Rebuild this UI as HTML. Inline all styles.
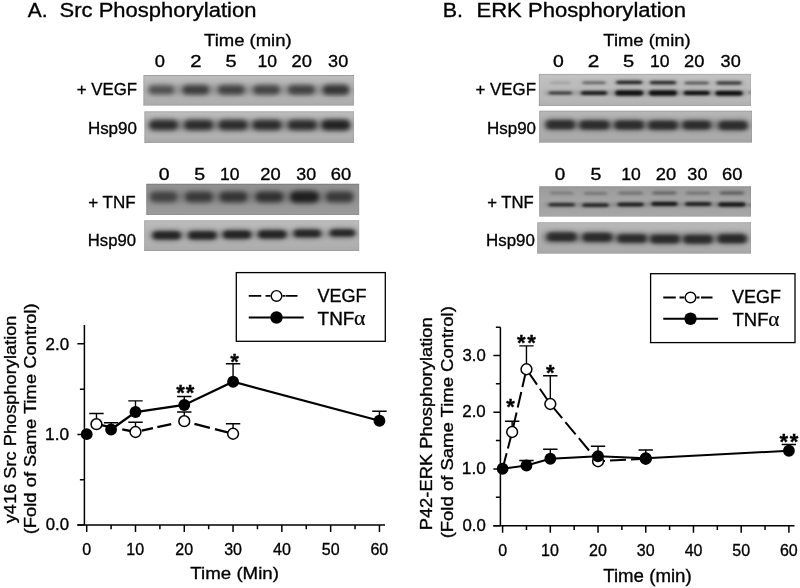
<!DOCTYPE html>
<html><head><meta charset="utf-8"><title>Src and ERK Phosphorylation</title>
<style>
html,body{margin:0;padding:0;background:#fff;}
svg{display:block;}
text{font-family:"Liberation Sans",sans-serif;fill:#000;stroke:#000;stroke-width:.32px;}
</style></head>
<body>
<svg width="800" height="588" viewBox="0 0 800 588">
<defs>
<filter id="bl" x="-5%" y="-30%" width="110%" height="160%"><feGaussianBlur stdDeviation="2.3 2.0"/></filter>
<filter id="bls" x="-5%" y="-30%" width="110%" height="160%"><feGaussianBlur stdDeviation="1.7 0.8"/></filter>
<filter id="bl2s" x="-5%" y="-30%" width="110%" height="160%"><feGaussianBlur stdDeviation="3 1.8"/></filter>
<filter id="blm" x="-5%" y="-30%" width="110%" height="160%"><feGaussianBlur stdDeviation="1.9 1.4"/></filter>
<filter id="bl2m" x="-5%" y="-30%" width="110%" height="160%"><feGaussianBlur stdDeviation="3.4 2.6"/></filter>
<filter id="bl2" x="-5%" y="-30%" width="110%" height="160%"><feGaussianBlur stdDeviation="3.6 2.8"/></filter>
<linearGradient id="ga" x1="0" y1="0" x2="0" y2="1"><stop offset="0" stop-color="#fff" stop-opacity=".12"/><stop offset=".5" stop-color="#fff" stop-opacity="0"/><stop offset="1" stop-color="#000" stop-opacity=".06"/></linearGradient>
<linearGradient id="gb" x1="0" y1="0" x2="0" y2="1"><stop offset="0" stop-color="#000" stop-opacity=".06"/><stop offset=".5" stop-color="#000" stop-opacity="0"/><stop offset="1" stop-color="#fff" stop-opacity=".04"/></linearGradient>
<clipPath id="ca1"><rect x="143.3" y="75" width="210.70" height="30.75"/></clipPath><clipPath id="ca2"><rect x="144.3" y="111.25" width="209.70" height="31.65"/></clipPath><clipPath id="ca3"><rect x="146.2" y="183.6" width="213.20" height="31.40"/></clipPath><clipPath id="ca4"><rect x="144.2" y="220.2" width="215.20" height="30.80"/></clipPath><clipPath id="cb1"><rect x="538.7" y="73.7" width="212.30" height="32.30"/></clipPath><clipPath id="cb2"><rect x="539.2" y="110.5" width="212.80" height="32.30"/></clipPath><clipPath id="cb3"><rect x="539.2" y="186.2" width="211.80" height="30.60"/></clipPath><clipPath id="cb4"><rect x="537.2" y="222.2" width="213.80" height="31.60"/></clipPath>
</defs>
<rect width="800" height="588" fill="#fff"/>
<text transform="translate(27.73,17.40) scale(1.0684,1)" font-size="19.6">A.</text>
<text transform="translate(59.57,17.40) scale(1.1224,1)" font-size="19.6">Src Phosphorylation</text>
<text transform="translate(204.07,45.60) scale(1.1001,1)" font-size="16.8">Time (min)</text>
<text transform="translate(154.77,66.80) scale(1.1331,1)" font-size="16.2">0</text>
<text transform="translate(190.24,66.80) scale(1.2503,1)" font-size="16.2">2</text>
<text transform="translate(225.45,66.80) scale(1.2389,1)" font-size="16.2">5</text>
<text transform="translate(257.40,66.80) scale(1.0839,1)" font-size="16.2">10</text>
<text transform="translate(291.58,66.80) scale(1.1310,1)" font-size="16.2">20</text>
<text transform="translate(328.09,66.80) scale(1.1165,1)" font-size="16.2">30</text>
<text transform="translate(158.72,179.60) scale(1.1979,1)" font-size="16.2">0</text>
<text transform="translate(194.22,179.60) scale(1.2063,1)" font-size="16.2">5</text>
<text transform="translate(219.90,179.60) scale(1.0839,1)" font-size="16.2">10</text>
<text transform="translate(260.33,179.60) scale(1.1310,1)" font-size="16.2">20</text>
<text transform="translate(296.35,179.60) scale(1.1016,1)" font-size="16.2">30</text>
<text transform="translate(330.83,179.60) scale(1.1310,1)" font-size="16.2">60</text>
<text transform="translate(76.86,95.10) scale(1.0372,1)" font-size="16.2">+ VEGF</text>
<text transform="translate(87.88,133.60) scale(1.0486,1)" font-size="16.2">Hsp90</text>
<text transform="translate(88.15,208.20) scale(1.0507,1)" font-size="16.2">+ TNF</text>
<text transform="translate(87.81,245.90) scale(1.0286,1)" font-size="16.2">Hsp90</text>
<text transform="translate(442.71,17.40) scale(1.0933,1)" font-size="19.6">B.</text>
<text transform="translate(476.46,17.40) scale(1.1260,1)" font-size="19.6">ERK Phosphorylation</text>
<text transform="translate(603.32,45.60) scale(1.0969,1)" font-size="16.8">Time (min)</text>
<text transform="translate(552.97,66.80) scale(1.1979,1)" font-size="16.2">0</text>
<text transform="translate(587.71,66.80) scale(1.2841,1)" font-size="16.2">2</text>
<text transform="translate(622.95,66.80) scale(1.2389,1)" font-size="16.2">5</text>
<text transform="translate(649.90,66.80) scale(1.0839,1)" font-size="16.2">10</text>
<text transform="translate(684.08,66.80) scale(1.1310,1)" font-size="16.2">20</text>
<text transform="translate(720.59,66.80) scale(1.1165,1)" font-size="16.2">30</text>
<text transform="translate(554.74,179.60) scale(1.1655,1)" font-size="16.2">0</text>
<text transform="translate(590.47,179.60) scale(1.2063,1)" font-size="16.2">5</text>
<text transform="translate(621.15,179.60) scale(1.0839,1)" font-size="16.2">10</text>
<text transform="translate(655.83,179.60) scale(1.1310,1)" font-size="16.2">20</text>
<text transform="translate(687.34,179.60) scale(1.1165,1)" font-size="16.2">30</text>
<text transform="translate(722.08,179.60) scale(1.1310,1)" font-size="16.2">60</text>
<text transform="translate(475.46,95.10) scale(1.0426,1)" font-size="16.2">+ VEGF</text>
<text transform="translate(486.99,133.70) scale(1.0464,1)" font-size="16.2">Hsp90</text>
<text transform="translate(487.17,208.20) scale(1.0301,1)" font-size="16.2">+ TNF</text>
<text transform="translate(486.09,246.20) scale(1.0419,1)" font-size="16.2">Hsp90</text>
<g clip-path="url(#ca1)">
<rect x="143.3" y="75" width="210.70" height="30.75" fill="#b4b4b4"/>
<rect x="143.3" y="75" width="210.70" height="30.75" fill="url(#ga)"/>
<g filter="url(#bl2)">
<rect x="149.30" y="85.00" width="198.70" height="10.00" fill="#000" opacity="0.14"/>
<rect x="147.20" y="83.80" width="28.00" height="12.00" rx="6.00" fill="#000" opacity="0.175"/>
<rect x="181.30" y="83.55" width="29.00" height="12.50" rx="6.25" fill="#000" opacity="0.236"/>
<rect x="216.80" y="83.55" width="29.00" height="12.50" rx="6.25" fill="#000" opacity="0.220"/>
<rect x="252.00" y="83.55" width="29.00" height="12.50" rx="6.25" fill="#000" opacity="0.213"/>
<rect x="286.90" y="83.55" width="29.00" height="12.50" rx="6.25" fill="#000" opacity="0.220"/>
<rect x="321.60" y="83.30" width="29.00" height="13.00" rx="6.50" fill="#000" opacity="0.258"/>
</g>
<g filter="url(#bl)">
<rect x="148.70" y="85.90" width="25.00" height="7.80" rx="3.90" fill="#000" opacity="0.368"/>
<rect x="182.80" y="85.65" width="26.00" height="8.30" rx="4.15" fill="#000" opacity="0.496"/>
<rect x="218.30" y="85.65" width="26.00" height="8.30" rx="4.15" fill="#000" opacity="0.464"/>
<rect x="253.50" y="85.65" width="26.00" height="8.30" rx="4.15" fill="#000" opacity="0.448"/>
<rect x="288.40" y="85.65" width="26.00" height="8.30" rx="4.15" fill="#000" opacity="0.464"/>
<rect x="323.10" y="85.40" width="26.00" height="8.80" rx="4.40" fill="#000" opacity="0.544"/>
</g>
<path d="M143.70 105.75 V75.40 H354.00" fill="none" stroke="#000" stroke-opacity=".2" stroke-width=".9"/>
<path d="M143.30 105.35 H353.60 V75.00" fill="none" stroke="#000" stroke-opacity=".08" stroke-width=".9"/>
</g>
<g clip-path="url(#ca2)">
<rect x="144.3" y="111.25" width="209.70" height="31.65" fill="#b3b3b3"/>
<rect x="144.3" y="111.25" width="209.70" height="31.65" fill="url(#ga)"/>
<g filter="url(#bl2)">
<rect x="150.30" y="119.50" width="197.70" height="11.00" fill="#000" opacity="0.2"/>
<rect x="147.90" y="118.60" width="31.00" height="12.80" rx="6.40" fill="#000" opacity="0.281"/>
<rect x="183.10" y="118.60" width="31.00" height="12.80" rx="6.40" fill="#000" opacity="0.281"/>
<rect x="217.50" y="118.60" width="31.00" height="12.80" rx="6.40" fill="#000" opacity="0.281"/>
<rect x="251.50" y="118.60" width="31.00" height="12.80" rx="6.40" fill="#000" opacity="0.281"/>
<rect x="286.80" y="118.60" width="31.00" height="12.80" rx="6.40" fill="#000" opacity="0.281"/>
<rect x="320.50" y="118.45" width="31.00" height="13.10" rx="6.55" fill="#000" opacity="0.319"/>
</g>
<g filter="url(#bl)">
<rect x="149.40" y="120.70" width="28.00" height="8.60" rx="4.30" fill="#000" opacity="0.592"/>
<rect x="184.60" y="120.70" width="28.00" height="8.60" rx="4.30" fill="#000" opacity="0.592"/>
<rect x="219.00" y="120.70" width="28.00" height="8.60" rx="4.30" fill="#000" opacity="0.592"/>
<rect x="253.00" y="120.70" width="28.00" height="8.60" rx="4.30" fill="#000" opacity="0.592"/>
<rect x="288.30" y="120.70" width="28.00" height="8.60" rx="4.30" fill="#000" opacity="0.592"/>
<rect x="322.00" y="120.55" width="28.00" height="8.90" rx="4.45" fill="#000" opacity="0.672"/>
</g>
<path d="M144.70 142.90 V111.65 H354.00" fill="none" stroke="#000" stroke-opacity=".2" stroke-width=".9"/>
<path d="M144.30 142.50 H353.60 V111.25" fill="none" stroke="#000" stroke-opacity=".08" stroke-width=".9"/>
</g>
<g clip-path="url(#ca3)">
<rect x="146.2" y="183.6" width="213.20" height="31.40" fill="#989898"/>
<rect x="146.2" y="183.6" width="213.20" height="31.40" fill="url(#gb)"/>
<g filter="url(#bl2)">
<rect x="152.20" y="191.50" width="201.20" height="11.00" fill="#000" opacity="0.14"/>
<rect x="148.30" y="190.15" width="30.00" height="13.50" rx="6.75" fill="#000" opacity="0.182"/>
<rect x="184.00" y="190.15" width="30.00" height="13.50" rx="6.75" fill="#000" opacity="0.213"/>
<rect x="218.40" y="190.15" width="30.00" height="13.50" rx="6.75" fill="#000" opacity="0.228"/>
<rect x="254.40" y="190.15" width="30.00" height="13.50" rx="6.75" fill="#000" opacity="0.243"/>
<rect x="289.00" y="189.65" width="31.00" height="14.50" rx="7.25" fill="#000" opacity="0.312"/>
<rect x="324.70" y="190.15" width="30.00" height="13.50" rx="6.75" fill="#000" opacity="0.213"/>
</g>
<g filter="url(#bl)">
<rect x="149.80" y="192.25" width="27.00" height="9.30" rx="4.65" fill="#000" opacity="0.384"/>
<rect x="185.50" y="192.25" width="27.00" height="9.30" rx="4.65" fill="#000" opacity="0.448"/>
<rect x="219.90" y="192.25" width="27.00" height="9.30" rx="4.65" fill="#000" opacity="0.480"/>
<rect x="255.90" y="192.25" width="27.00" height="9.30" rx="4.65" fill="#000" opacity="0.512"/>
<rect x="290.50" y="191.75" width="28.00" height="10.30" rx="5.15" fill="#000" opacity="0.656"/>
<rect x="326.20" y="192.25" width="27.00" height="9.30" rx="4.65" fill="#000" opacity="0.448"/>
</g>
<path d="M146.60 215.00 V184.00 H359.40" fill="none" stroke="#000" stroke-opacity=".2" stroke-width=".9"/>
<path d="M146.20 214.60 H359.00 V183.60" fill="none" stroke="#000" stroke-opacity=".08" stroke-width=".9"/>
</g>
<g clip-path="url(#ca4)">
<rect x="144.2" y="220.2" width="215.20" height="30.80" fill="#b3b3b3"/>
<rect x="144.2" y="220.2" width="215.20" height="30.80" fill="url(#ga)"/>
<g filter="url(#bl2m)">
<rect x="150.20" y="230.50" width="203.20" height="8.00" fill="#000" opacity="0.1"/>
<rect x="151.45" y="229.75" width="30.50" height="11.30" rx="5.65" fill="#000" opacity="0.334"/>
<rect x="187.15" y="229.75" width="30.50" height="11.30" rx="5.65" fill="#000" opacity="0.334"/>
<rect x="221.75" y="228.95" width="30.50" height="11.30" rx="5.65" fill="#000" opacity="0.334"/>
<rect x="256.95" y="228.75" width="30.50" height="11.30" rx="5.65" fill="#000" opacity="0.334"/>
<rect x="292.55" y="228.05" width="29.50" height="10.70" rx="5.35" fill="#000" opacity="0.327"/>
<rect x="328.75" y="227.75" width="27.50" height="10.30" rx="5.15" fill="#000" opacity="0.327"/>
</g>
<g filter="url(#blm)">
<rect x="152.95" y="231.50" width="27.50" height="7.80" rx="3.28" fill="#000" opacity="0.662"/>
<rect x="188.65" y="231.50" width="27.50" height="7.80" rx="3.28" fill="#000" opacity="0.662"/>
<rect x="223.25" y="230.70" width="27.50" height="7.80" rx="3.28" fill="#000" opacity="0.662"/>
<rect x="258.45" y="230.50" width="27.50" height="7.80" rx="3.28" fill="#000" opacity="0.662"/>
<rect x="294.05" y="229.80" width="26.50" height="7.20" rx="3.02" fill="#000" opacity="0.647"/>
<rect x="330.25" y="229.50" width="24.50" height="6.80" rx="2.86" fill="#000" opacity="0.647"/>
</g>
<path d="M144.60 251.00 V220.60 H359.40" fill="none" stroke="#000" stroke-opacity=".2" stroke-width=".9"/>
<path d="M144.20 250.60 H359.00 V220.20" fill="none" stroke="#000" stroke-opacity=".08" stroke-width=".9"/>
</g>
<g clip-path="url(#cb1)">
<rect x="538.7" y="73.7" width="212.30" height="32.30" fill="#bababa"/>
<rect x="538.7" y="73.7" width="212.30" height="32.30" fill="url(#ga)"/>
<g filter="url(#bl2s)">
<rect x="544.70" y="90.50" width="200.30" height="5.00" fill="#000" opacity="0.1"/>
<rect x="549.30" y="80.60" width="22.00" height="4.20" rx="2.10" fill="#000" opacity="0.038"/>
<rect x="581.50" y="80.30" width="25.00" height="4.80" rx="2.40" fill="#000" opacity="0.110"/>
<rect x="615.20" y="79.40" width="28.00" height="5.80" rx="2.90" fill="#000" opacity="0.202"/>
<rect x="649.00" y="79.80" width="28.00" height="5.80" rx="2.90" fill="#000" opacity="0.192"/>
<rect x="683.70" y="80.50" width="26.00" height="5.00" rx="2.50" fill="#000" opacity="0.134"/>
<rect x="715.50" y="80.30" width="27.00" height="5.40" rx="2.70" fill="#000" opacity="0.178"/>
<rect x="547.80" y="90.60" width="25.00" height="4.80" rx="2.40" fill="#000" opacity="0.173"/>
<rect x="580.00" y="89.90" width="28.00" height="6.20" rx="3.10" fill="#000" opacity="0.221"/>
<rect x="614.20" y="89.10" width="30.00" height="7.80" rx="3.90" fill="#000" opacity="0.240"/>
<rect x="648.00" y="89.10" width="30.00" height="7.80" rx="3.90" fill="#000" opacity="0.240"/>
<rect x="682.70" y="89.60" width="28.00" height="6.80" rx="3.40" fill="#000" opacity="0.233"/>
<rect x="714.50" y="89.65" width="29.00" height="7.30" rx="3.65" fill="#000" opacity="0.240"/>
<rect x="747.75" y="90.00" width="4.50" height="5.00" rx="2.50" fill="#000" opacity="0.120"/>
</g>
<g filter="url(#bls)">
<rect x="550.30" y="81.77" width="20.00" height="1.87" rx="0.94" fill="#000" opacity="0.138"/>
<rect x="582.50" y="81.51" width="23.00" height="2.38" rx="1.19" fill="#000" opacity="0.397"/>
<rect x="616.20" y="80.69" width="26.00" height="3.23" rx="1.61" fill="#000" opacity="0.726"/>
<rect x="650.00" y="81.09" width="26.00" height="3.23" rx="1.61" fill="#000" opacity="0.691"/>
<rect x="684.70" y="81.72" width="24.00" height="2.55" rx="1.27" fill="#000" opacity="0.484"/>
<rect x="716.50" y="81.56" width="25.00" height="2.89" rx="1.44" fill="#000" opacity="0.639"/>
<rect x="548.80" y="91.81" width="23.00" height="2.38" rx="1.19" fill="#000" opacity="0.622"/>
<rect x="581.00" y="91.22" width="26.00" height="3.57" rx="1.78" fill="#000" opacity="0.795"/>
<rect x="615.20" y="90.53" width="28.00" height="4.93" rx="2.46" fill="#000" opacity="0.864"/>
<rect x="649.00" y="90.53" width="28.00" height="4.93" rx="2.46" fill="#000" opacity="0.864"/>
<rect x="683.70" y="90.96" width="26.00" height="4.08" rx="2.04" fill="#000" opacity="0.838"/>
<rect x="715.50" y="91.05" width="27.00" height="4.50" rx="2.25" fill="#000" opacity="0.864"/>
<rect x="748.75" y="91.22" width="2.50" height="2.55" rx="1.27" fill="#000" opacity="0.432"/>
</g>
<path d="M539.10 106.00 V74.10 H751.00" fill="none" stroke="#000" stroke-opacity=".2" stroke-width=".9"/>
<path d="M538.70 105.60 H750.60 V73.70" fill="none" stroke="#000" stroke-opacity=".08" stroke-width=".9"/>
</g>
<g clip-path="url(#cb2)">
<rect x="539.2" y="110.5" width="212.80" height="32.30" fill="#adadad"/>
<rect x="539.2" y="110.5" width="212.80" height="32.30" fill="url(#ga)"/>
<g filter="url(#bl2m)">
<rect x="545.20" y="120.00" width="200.80" height="10.00" fill="#000" opacity="0.2"/>
<rect x="544.55" y="118.55" width="31.50" height="12.10" rx="6.05" fill="#000" opacity="0.274"/>
<rect x="578.50" y="118.95" width="32.00" height="12.10" rx="6.05" fill="#000" opacity="0.281"/>
<rect x="613.45" y="118.95" width="31.50" height="12.10" rx="6.05" fill="#000" opacity="0.281"/>
<rect x="647.25" y="119.15" width="31.50" height="12.10" rx="6.05" fill="#000" opacity="0.281"/>
<rect x="681.45" y="119.35" width="30.50" height="11.70" rx="5.85" fill="#000" opacity="0.281"/>
<rect x="717.55" y="119.45" width="31.50" height="12.10" rx="6.05" fill="#000" opacity="0.281"/>
</g>
<g filter="url(#blm)">
<rect x="546.05" y="120.30" width="28.50" height="8.60" rx="3.61" fill="#000" opacity="0.541"/>
<rect x="580.00" y="120.70" width="29.00" height="8.60" rx="3.61" fill="#000" opacity="0.556"/>
<rect x="614.95" y="120.70" width="28.50" height="8.60" rx="3.61" fill="#000" opacity="0.556"/>
<rect x="648.75" y="120.90" width="28.50" height="8.60" rx="3.61" fill="#000" opacity="0.556"/>
<rect x="682.95" y="121.10" width="27.50" height="8.20" rx="3.44" fill="#000" opacity="0.556"/>
<rect x="719.05" y="121.20" width="28.50" height="8.60" rx="3.61" fill="#000" opacity="0.556"/>
</g>
<path d="M539.60 142.80 V110.90 H752.00" fill="none" stroke="#000" stroke-opacity=".2" stroke-width=".9"/>
<path d="M539.20 142.40 H751.60 V110.50" fill="none" stroke="#000" stroke-opacity=".08" stroke-width=".9"/>
</g>
<g clip-path="url(#cb3)">
<rect x="539.2" y="186.2" width="211.80" height="30.60" fill="#a5a5a5"/>
<rect x="539.2" y="186.2" width="211.80" height="30.60" fill="url(#gb)"/>
<g filter="url(#bl2s)">
<rect x="545.20" y="202.50" width="199.80" height="4.00" fill="#000" opacity="0.1"/>
<rect x="549.20" y="190.60" width="25.00" height="5.20" rx="2.60" fill="#000" opacity="0.048"/>
<rect x="583.00" y="190.80" width="25.00" height="5.20" rx="2.60" fill="#000" opacity="0.058"/>
<rect x="617.60" y="190.60" width="26.00" height="5.20" rx="2.60" fill="#000" opacity="0.067"/>
<rect x="651.40" y="190.25" width="26.00" height="5.50" rx="2.75" fill="#000" opacity="0.082"/>
<rect x="685.10" y="190.60" width="26.00" height="5.20" rx="2.60" fill="#000" opacity="0.062"/>
<rect x="718.90" y="190.10" width="26.00" height="5.80" rx="2.90" fill="#000" opacity="0.096"/>
<rect x="547.70" y="202.00" width="28.00" height="5.60" rx="2.80" fill="#000" opacity="0.187"/>
<rect x="581.50" y="202.30" width="28.00" height="5.80" rx="2.90" fill="#000" opacity="0.197"/>
<rect x="616.60" y="201.50" width="28.00" height="6.00" rx="3.00" fill="#000" opacity="0.206"/>
<rect x="650.40" y="200.60" width="28.00" height="6.40" rx="3.20" fill="#000" opacity="0.221"/>
<rect x="684.10" y="201.00" width="28.00" height="6.00" rx="3.00" fill="#000" opacity="0.206"/>
<rect x="717.40" y="201.20" width="29.00" height="6.60" rx="3.30" fill="#000" opacity="0.221"/>
<rect x="747.75" y="202.50" width="4.50" height="5.00" rx="2.50" fill="#000" opacity="0.108"/>
</g>
<g filter="url(#bls)">
<rect x="550.20" y="191.84" width="23.00" height="2.72" rx="1.36" fill="#000" opacity="0.173"/>
<rect x="584.00" y="192.04" width="23.00" height="2.72" rx="1.36" fill="#000" opacity="0.207"/>
<rect x="618.60" y="191.84" width="24.00" height="2.72" rx="1.36" fill="#000" opacity="0.242"/>
<rect x="652.40" y="191.51" width="24.00" height="2.98" rx="1.49" fill="#000" opacity="0.294"/>
<rect x="686.10" y="191.84" width="24.00" height="2.72" rx="1.36" fill="#000" opacity="0.225"/>
<rect x="719.90" y="191.38" width="24.00" height="3.23" rx="1.61" fill="#000" opacity="0.346"/>
<rect x="548.70" y="203.27" width="26.00" height="3.06" rx="1.53" fill="#000" opacity="0.674"/>
<rect x="582.50" y="203.58" width="26.00" height="3.23" rx="1.61" fill="#000" opacity="0.708"/>
<rect x="617.60" y="202.80" width="26.00" height="3.40" rx="1.70" fill="#000" opacity="0.743"/>
<rect x="651.40" y="201.93" width="26.00" height="3.74" rx="1.87" fill="#000" opacity="0.795"/>
<rect x="685.10" y="202.30" width="26.00" height="3.40" rx="1.70" fill="#000" opacity="0.743"/>
<rect x="718.40" y="202.54" width="27.00" height="3.91" rx="1.95" fill="#000" opacity="0.795"/>
<rect x="748.75" y="203.72" width="2.50" height="2.55" rx="1.27" fill="#000" opacity="0.389"/>
</g>
<path d="M539.60 216.80 V186.60 H751.00" fill="none" stroke="#000" stroke-opacity=".2" stroke-width=".9"/>
<path d="M539.20 216.40 H750.60 V186.20" fill="none" stroke="#000" stroke-opacity=".08" stroke-width=".9"/>
</g>
<g clip-path="url(#cb4)">
<rect x="537.2" y="222.2" width="213.80" height="31.60" fill="#afafaf"/>
<rect x="537.2" y="222.2" width="213.80" height="31.60" fill="url(#ga)"/>
<g filter="url(#bl2m)">
<rect x="543.20" y="233.00" width="201.80" height="10.00" fill="#000" opacity="0.2"/>
<rect x="545.70" y="230.85" width="32.00" height="11.90" rx="5.95" fill="#000" opacity="0.289"/>
<rect x="581.40" y="231.25" width="32.00" height="11.90" rx="5.95" fill="#000" opacity="0.289"/>
<rect x="616.25" y="232.65" width="31.50" height="11.70" rx="5.85" fill="#000" opacity="0.289"/>
<rect x="649.25" y="233.25" width="31.50" height="11.70" rx="5.85" fill="#000" opacity="0.289"/>
<rect x="682.25" y="233.45" width="31.50" height="11.70" rx="5.85" fill="#000" opacity="0.289"/>
<rect x="716.65" y="232.80" width="31.50" height="12.00" rx="6.00" fill="#000" opacity="0.296"/>
</g>
<g filter="url(#blm)">
<rect x="547.20" y="232.60" width="29.00" height="8.40" rx="3.53" fill="#000" opacity="0.572"/>
<rect x="582.90" y="233.00" width="29.00" height="8.40" rx="3.53" fill="#000" opacity="0.572"/>
<rect x="617.75" y="234.40" width="28.50" height="8.20" rx="3.44" fill="#000" opacity="0.572"/>
<rect x="650.75" y="235.00" width="28.50" height="8.20" rx="3.44" fill="#000" opacity="0.572"/>
<rect x="683.75" y="235.20" width="28.50" height="8.20" rx="3.44" fill="#000" opacity="0.572"/>
<rect x="718.15" y="234.55" width="28.50" height="8.50" rx="3.57" fill="#000" opacity="0.587"/>
</g>
<path d="M537.60 253.80 V222.60 H751.00" fill="none" stroke="#000" stroke-opacity=".2" stroke-width=".9"/>
<path d="M537.20 253.40 H750.60 V222.20" fill="none" stroke="#000" stroke-opacity=".08" stroke-width=".9"/>
</g>
<g fill="none" stroke="#000" stroke-width="1.5"><path d="M84.4 325.1 V524.95 M77.4 524.95 H385" /><path d="M77.4 524.95 H84.4 M79.9 479.68 H84.4 M77.4 434.40 H84.4 M79.9 389.13 H84.4 M77.4 343.85 H84.4 M86.70 524.95 v7 M111.09 524.95 v4.2 M135.49 524.95 v7 M159.88 524.95 v4.2 M184.28 524.95 v7 M208.68 524.95 v4.2 M233.07 524.95 v7 M257.46 524.95 v4.2 M281.86 524.95 v7 M306.25 524.95 v4.2 M330.65 524.95 v7 M355.04 524.95 v4.2 M379.44 524.95 v7 "/></g>
<path d="M96.46 424.20 V413.50 M89.26 413.50 h14.4 M135.49 432.00 V422.30 M128.29 422.30 h14.4 M184.28 421.20 V412.00 M177.08 412.00 h14.4 M233.07 433.75 V423.75 M225.87 423.75 h14.4 M111.09 429.50 V422.70 M103.89 422.70 h14.4 M135.49 412.00 V400.90 M128.29 400.90 h14.4 M184.28 405.00 V396.50 M177.08 396.50 h14.4 M233.07 381.75 V363.75 M225.87 363.75 h14.4 M379.44 420.75 V411.25 M372.24 411.25 h14.4 " fill="none" stroke="#000" stroke-width="1.4"/>
<line x1="96.46" y1="424.20" x2="135.49" y2="432.00" stroke="#000" stroke-width="2.3" stroke-dasharray="16 10.3 16 100"/>
<line x1="135.49" y1="432.00" x2="184.28" y2="421.20" stroke="#000" stroke-width="2.3" stroke-dasharray="0 6.4 11.5 4.5 14.2 100"/>
<line x1="184.28" y1="421.20" x2="233.07" y2="433.75" stroke="#000" stroke-width="2.3" stroke-dasharray="0 10.5 16 5.2 16 100"/>
<polyline points="111.09,429.50 135.49,412.00 184.28,405.00 233.07,381.75 379.44,420.75" fill="none" stroke="#000" stroke-width="2.3"/>
<circle cx="96.46" cy="424.20" r="5.4" fill="#fff" stroke="#000" stroke-width="1.5"/>
<circle cx="135.49" cy="432.00" r="5.4" fill="#fff" stroke="#000" stroke-width="1.5"/>
<circle cx="184.28" cy="421.20" r="5.4" fill="#fff" stroke="#000" stroke-width="1.5"/>
<circle cx="233.07" cy="433.75" r="5.4" fill="#fff" stroke="#000" stroke-width="1.5"/>
<circle cx="86.70" cy="434.20" r="5.9" fill="#000"/>
<circle cx="111.09" cy="429.50" r="5.9" fill="#000"/>
<circle cx="135.49" cy="412.00" r="5.9" fill="#000"/>
<circle cx="184.28" cy="405.00" r="5.9" fill="#000"/>
<circle cx="233.07" cy="381.75" r="5.9" fill="#000"/>
<circle cx="379.44" cy="420.75" r="5.9" fill="#000"/>
<text transform="translate(45.55,349.60) scale(1.0848,1)" font-size="15.6">2.0</text>
<text transform="translate(45.08,439.60) scale(1.1075,1)" font-size="15.6">1.0</text>
<text transform="translate(45.73,529.90) scale(1.0765,1)" font-size="15.6">0.0</text>
<text transform="translate(82.25,554.60) scale(1.0000,1)" font-size="16">0</text>
<text transform="translate(126.29,554.60) scale(1.0000,1)" font-size="16">10</text>
<text transform="translate(175.29,554.60) scale(1.0000,1)" font-size="16">20</text>
<text transform="translate(224.19,554.60) scale(1.0000,1)" font-size="16">30</text>
<text transform="translate(273.09,554.60) scale(1.0000,1)" font-size="16">40</text>
<text transform="translate(321.74,554.60) scale(1.0000,1)" font-size="16">50</text>
<text transform="translate(370.45,554.60) scale(1.0000,1)" font-size="16">60</text>
<text transform="translate(190.36,579.20) scale(1.0807,1)" font-size="17.3">Time (Min)</text>
<text transform="translate(15.90,523.26) rotate(-90) scale(1.0724,1)" font-size="17">y416 Src Phosphorylation</text>
<text transform="translate(35.90,534.37) rotate(-90) scale(1.1153,1)" font-size="16.5">(Fold of Same Time Control)</text>
<text transform="translate(176.15,399.87) scale(0.9800,1)" font-size="22.5" font-weight="bold" letter-spacing="1.04">**</text>
<text transform="translate(230.20,368.77) scale(0.9800,1)" font-size="22.5" font-weight="bold">*</text>
<g fill="none" stroke="#000" stroke-width="1.5"><path d="M500.4 327.3 V525.7 M493.4 525.7 H794.5" /><path d="M493.4 525.70 H500.4 M495.9 497.32 H500.4 M493.4 468.93 H500.4 M495.9 440.55 H500.4 M493.4 412.16 H500.4 M495.9 383.78 H500.4 M493.4 355.39 H500.4 M495.9 327.3 H500.4 M502.60 525.7 v7 M526.46 525.7 v4.2 M550.32 525.7 v7 M574.18 525.7 v4.2 M598.03 525.7 v7 M621.89 525.7 v4.2 M645.75 525.7 v7 M669.61 525.7 v4.2 M693.47 525.7 v7 M717.33 525.7 v4.2 M741.19 525.7 v7 M765.04 525.7 v4.2 M788.90 525.7 v7 "/></g>
<path d="M512.14 432.00 V421.25 M504.94 421.25 h14.4 M526.46 369.25 V345.90 M519.26 345.90 h14.4 M550.32 404.00 V375.75 M543.12 375.75 h14.4 M526.46 465.50 V460.50 M519.26 460.50 h14.4 M550.32 458.75 V449.25 M543.12 449.25 h14.4 M598.03 456.25 V446.25 M590.83 446.25 h14.4 M645.75 458.25 V450.00 M638.55 450.00 h14.4 M788.90 450.75 V444.50 M781.70 444.50 h14.4 " fill="none" stroke="#000" stroke-width="1.4"/>
<polyline points="502.60,468.75 512.14,432.00 526.46,369.25 550.32,404.00 598.03,461.25 645.75,458.75" fill="none" stroke="#000" stroke-width="2.0" stroke-dasharray="16 5" stroke-dashoffset="0"/>
<polyline points="502.60,468.75 526.46,465.50 550.32,458.75 598.03,456.25 645.75,458.25 788.90,450.75" fill="none" stroke="#000" stroke-width="2.0"/>
<circle cx="512.14" cy="432.00" r="5.4" fill="#fff" stroke="#000" stroke-width="1.5"/>
<circle cx="526.46" cy="369.25" r="5.4" fill="#fff" stroke="#000" stroke-width="1.5"/>
<circle cx="550.32" cy="404.00" r="5.4" fill="#fff" stroke="#000" stroke-width="1.5"/>
<circle cx="598.03" cy="461.25" r="5.4" fill="#fff" stroke="#000" stroke-width="1.5"/>
<circle cx="645.75" cy="458.75" r="5.4" fill="#fff" stroke="#000" stroke-width="1.5"/>
<circle cx="502.60" cy="468.75" r="5.9" fill="#000"/>
<circle cx="526.46" cy="465.50" r="5.9" fill="#000"/>
<circle cx="550.32" cy="458.75" r="5.9" fill="#000"/>
<circle cx="598.03" cy="456.25" r="5.9" fill="#000"/>
<circle cx="645.75" cy="458.25" r="5.9" fill="#000"/>
<circle cx="788.90" cy="450.75" r="5.9" fill="#000"/>
<text transform="translate(462.49,361.00) scale(1.0738,1)" font-size="15.6">3.0</text>
<text transform="translate(462.25,417.30) scale(1.0848,1)" font-size="15.6">2.0</text>
<text transform="translate(461.78,474.00) scale(1.1075,1)" font-size="15.6">1.0</text>
<text transform="translate(462.43,530.60) scale(1.0765,1)" font-size="15.6">0.0</text>
<text transform="translate(498.15,555.60) scale(1.0000,1)" font-size="16">0</text>
<text transform="translate(541.12,555.60) scale(1.0000,1)" font-size="16">10</text>
<text transform="translate(589.05,555.60) scale(1.0000,1)" font-size="16">20</text>
<text transform="translate(636.87,555.60) scale(1.0000,1)" font-size="16">30</text>
<text transform="translate(684.69,555.60) scale(1.0000,1)" font-size="16">40</text>
<text transform="translate(732.28,555.60) scale(1.0000,1)" font-size="16">50</text>
<text transform="translate(779.92,555.60) scale(1.0000,1)" font-size="16">60</text>
<text transform="translate(603.16,582.40) scale(1.0684,1)" font-size="17.5">Time (min)</text>
<text transform="translate(432.40,530.33) rotate(-90) scale(1.1126,1)" font-size="16.5">P42-ERK Phosphorylation</text>
<text transform="translate(452.60,538.37) rotate(-90) scale(1.1211,1)" font-size="16.5">(Fold of Same Time Control)</text>
<text transform="translate(506.20,414.07) scale(0.9800,1)" font-size="22.5" font-weight="bold">*</text>
<text transform="translate(517.10,350.02) scale(0.9800,1)" font-size="22.5" font-weight="bold" letter-spacing="1.55">**</text>
<text transform="translate(545.95,379.57) scale(0.9800,1)" font-size="22.5" font-weight="bold">*</text>
<text transform="translate(779.50,449.17) scale(0.9800,1)" font-size="22.5" font-weight="bold" letter-spacing="1.65">**</text>
<rect x="236.3" y="272.6" width="149.00" height="68.70" fill="#fff" stroke="#000" stroke-width="1.3"/>
<path d="M248.75 295.9 h12.5 M265.5 295.9 h5 M282.5 295.9 h3 M286.0 295.9 H297.5" stroke="#000" stroke-width="1.9" fill="none"/>
<circle cx="276.5" cy="295.9" r="5.3" fill="#fff" stroke="#000" stroke-width="1.4"/>
<path d="M248.75 317.5 H303.75" stroke="#000" stroke-width="1.9" fill="none"/>
<circle cx="276.5" cy="317.5" r="6.2" fill="#000"/>
<text transform="translate(317.44,302.20) scale(1.0146,1)" font-size="17.8">VEGF</text>
<text transform="translate(317.56,324.50) scale(1.0649,1)" font-size="17.8">TNF<tspan dx="-0.3" style="font-family:'Liberation Serif','DejaVu Serif',serif;font-size:20.5px;stroke-width:.2px">α</tspan></text>
<rect x="650.6" y="273.7" width="144.40" height="68.90" fill="#fff" stroke="#000" stroke-width="1.3"/>
<path d="M663.25 297.5 h12.5 M679.5 297.5 h5 M696.5 297.5 h3 M701.0 297.5 H712.5" stroke="#000" stroke-width="1.9" fill="none"/>
<circle cx="690.5" cy="297.5" r="5.3" fill="#fff" stroke="#000" stroke-width="1.4"/>
<path d="M663.25 318.75 H718" stroke="#000" stroke-width="1.9" fill="none"/>
<circle cx="690.5" cy="318.75" r="6.2" fill="#000"/>
<text transform="translate(731.94,303.20) scale(1.0104,1)" font-size="17.8">VEGF</text>
<text transform="translate(732.57,325.70) scale(1.0378,1)" font-size="17.8">TNF<tspan dx="-0.3" style="font-family:'Liberation Serif','DejaVu Serif',serif;font-size:20.5px;stroke-width:.2px">α</tspan></text>
</svg>
</body></html>
